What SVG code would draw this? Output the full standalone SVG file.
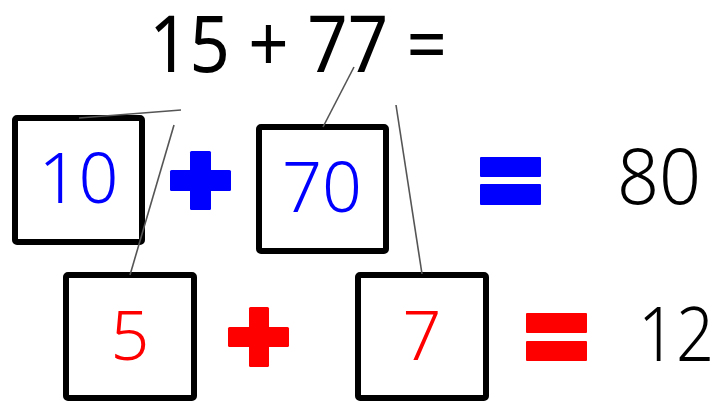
<svg xmlns="http://www.w3.org/2000/svg" width="718" height="401" viewBox="0 0 718 401">
<style>
  .box { fill: #fff; stroke: #000; stroke-width: 6; stroke-linejoin: round; }
  .num { font-family: "Noto Sans", "DejaVu Sans", sans-serif; text-anchor: middle; }
  .blue { fill: #0000ff; }
  .red { fill: #ff0000; }
  .blk { fill: #000; }
  .conn { stroke: #555; stroke-width: 1.6; fill: none; }
</style>
<rect width="718" height="401" fill="#fff"/>
<g id="title">
  <text class="num blk" x="298" y="72" font-size="78" font-weight="400" textLength="298" lengthAdjust="spacingAndGlyphs">15 + 77 =</text>
</g>
<g id="box10">
  <rect class="box" x="15" y="118" width="127" height="124" rx="2"/>
  <text class="num blue" x="78.5" y="203" font-size="70" font-weight="300">10</text>
</g>
<g id="plus-blue">
  <rect class="blue" x="190" y="151" width="21" height="59" rx="1.5"/>
  <rect class="blue" x="170" y="170" width="61" height="21" rx="1.5"/>
</g>
<g id="box70">
  <rect class="box" x="259" y="127" width="127" height="124" rx="2"/>
  <text class="num blue" x="322" y="212" font-size="70" font-weight="300">70</text>
</g>
<g id="eq-blue">
  <rect class="blue" x="480" y="157" width="61" height="20" rx="1"/>
  <rect class="blue" x="480" y="184" width="61" height="21" rx="1"/>
</g>
<g id="res80">
  <text class="num blk" x="659" y="204" font-size="78" font-weight="300" textLength="84" lengthAdjust="spacingAndGlyphs">80</text>
</g>
<g id="box5">
  <rect class="box" x="66" y="275" width="128" height="123" rx="2"/>
  <text class="num red" x="130" y="360" font-size="68" font-weight="300">5</text>
</g>
<g id="plus-red">
  <rect class="red" x="249" y="307" width="20" height="60" rx="1.5"/>
  <rect class="red" x="228" y="327" width="61" height="20" rx="1.5"/>
</g>
<g id="box7">
  <rect class="box" x="358" y="275" width="128" height="123" rx="2"/>
  <text class="num red" x="422" y="360" font-size="68" font-weight="300">7</text>
</g>
<g id="eq-red">
  <rect class="red" x="526" y="313" width="61" height="20" rx="1"/>
  <rect class="red" x="526" y="341" width="61" height="20" rx="1"/>
</g>
<g id="res12">
  <text class="num blk" x="676" y="361" font-size="76" font-weight="300" textLength="76" lengthAdjust="spacingAndGlyphs">12</text>
</g>
<g id="connectors">
  <line class="conn" x1="79" y1="118" x2="181" y2="110"/>
  <line class="conn" x1="174" y1="125" x2="130" y2="275"/>
  <line class="conn" x1="354" y1="67" x2="323" y2="127"/>
  <line class="conn" x1="396" y1="105" x2="422" y2="274"/>
</g>
</svg>
